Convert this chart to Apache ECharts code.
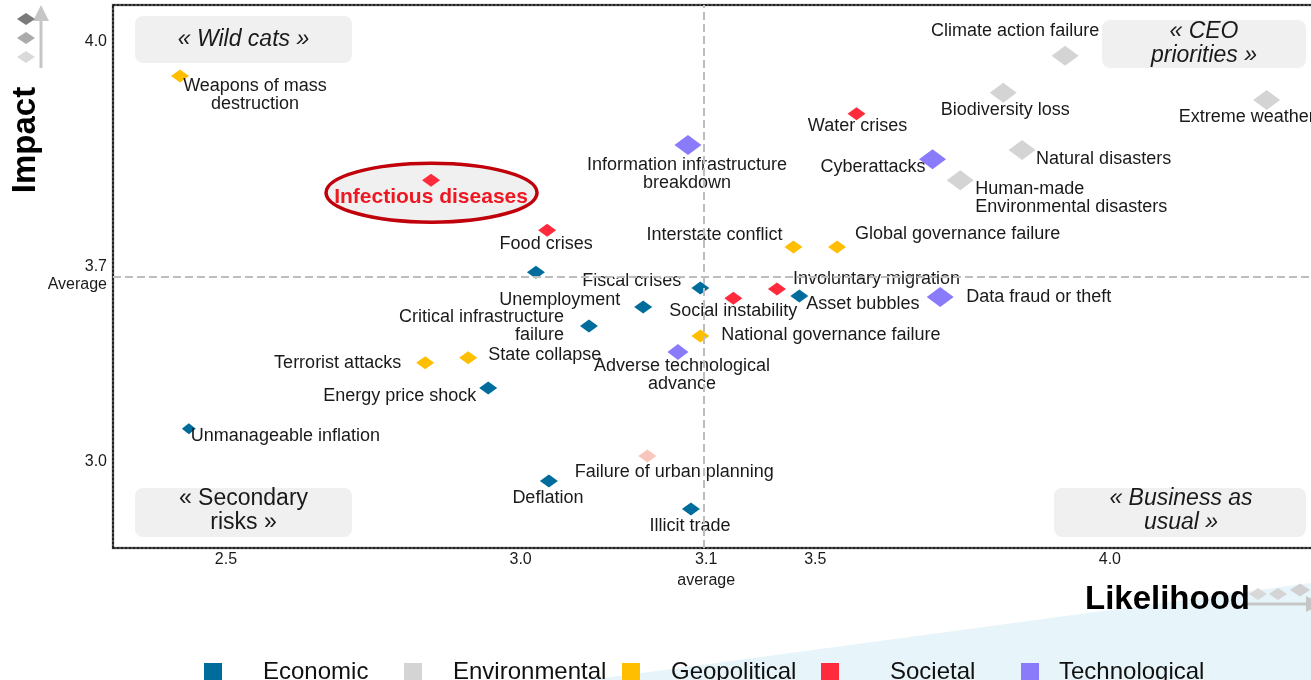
<!DOCTYPE html>
<html><head><meta charset="utf-8">
<script src="https://cdn.jsdelivr.net/npm/echarts@6/dist/echarts.min.js"></script>
<style>html,body{margin:0;padding:0;background:#fff}#c{width:1311px;height:680px}</style>
</head><body><div id="c"></div>
<script>
// ---------------- DATA ----------------
const categories = ['Economic', 'Environmental', 'Geopolitical', 'Societal', 'Technological'];

const economicRisks = ['Failure of financial mechanism', 'Unemployment', 'Critical infrastructure\nfailure', 'Fiscal crises', 'Asset bubbles', 'Energy price shock', 'Unmanageable inflation', 'Deflation', 'Illicit trade'];
const economicLikelihood = [3.026, 3.208, 3.116, 3.305, 3.473, 2.945, 2.437, 3.048, 3.289];
const economicImpact     = [3.452, 3.369, 3.324, 3.414, 3.395, 3.176, 3.079, 2.955, 2.888];

const environmentalRisks = ['Climate action failure', 'Biodiversity loss', 'Extreme weather', 'Natural disasters', 'Human-made\nEnvironmental disasters'];
const environmentalLikelihood = [3.924, 3.819, 4.266, 3.851, 3.746];
const environmentalImpact     = [3.967, 3.879, 3.862, 3.743, 3.671];

const geopoliticalRisks = ['Weapons of mass\ndestruction', 'Interstate conflict', 'Global governance failure', 'National governance failure', 'Terrorist attacks', 'State collapse'];
const geopoliticalLikelihood = [2.422, 3.463, 3.537, 3.305, 2.838, 2.911];
const geopoliticalImpact     = [3.919, 3.512, 3.512, 3.300, 3.236, 3.248];

const societalRisks = ['Water crises', 'Infectious diseases', 'Food crises', 'Social instability', 'Involuntary migration', 'Failure of urban planning'];
const societalLikelihood = [3.570, 2.848, 3.045, 3.361, 3.435, 3.215];
const societalImpact     = [3.829, 3.671, 3.552, 3.390, 3.412, 3.014];

const technologicalRisks = ['Information infrastructure\nbreakdown', 'Cyberattacks', 'Data fraud or theft', 'Adverse technological\nadvance'];
const technologicalLikelihood = [3.284, 3.699, 3.712, 3.267];
const technologicalImpact     = [3.755, 3.721, 3.393, 3.262];

const xTicks = [2.5, 3.0, 3.5, 4.0];
const yTicks = [3.0, 4.0];
const avgLikelihood = 3.315, avgLikelihoodLabel = '3.1\naverage';
const avgImpact = 3.443, avgImpactLabel = '3.7\nAverage';

const quadrantLabels = ['« Wild cats »', '« CEO\npriorities »', '« Secondary\nrisks »', '« Business as\nusual »'];
const highlightedRisk = 'Infectious diseases';

// ---------------- STYLE / LAYOUT ----------------
const FONT = '"Liberation Sans", Arial, Helvetica, sans-serif';
const colors = ['#006c9c', '#d4d4d4', '#ffbf00', '#ff2b3d', '#8a7bfb'];
const symbolSizes = [[18, 13], [27, 20], [18, 13], [18, 13], [27, 20]];
const sizeOverride = {'Unmanageable inflation': [14, 11], 'Adverse technological\nadvance': [21, 16]};
const colorOverride = {'Failure of urban planning': '#f9c6bc'};

// label placement: [align, dx, dy] relative to the marker centre
const labelLayout = {
  'Failure of financial mechanism': null,
  'Unemployment': ['right', -23, -7],
  'Critical infrastructure\nfailure': ['right', -25, 0],
  'Fiscal crises': ['right', -19, -7],
  'Asset bubbles': ['left', 7, 8],
  'Energy price shock': ['right', -12, 8],
  'Unmanageable inflation': ['left', 2, 7],
  'Deflation': ['center', -1, 17],
  'Illicit trade': ['center', -1, 17],
  'Climate action failure': ['center', -50, -25],
  'Biodiversity loss': ['center', 2, 17],
  'Extreme weather': ['left', -88, 17],
  'Natural disasters': ['left', 14, 9],
  'Human-made\nEnvironmental disasters': ['left', 15, 18],
  'Weapons of mass\ndestruction': ['center', 75, 19],
  'Interstate conflict': ['right', -11, -12],
  'Global governance failure': ['left', 18, -13],
  'National governance failure': ['left', 21, -1],
  'Terrorist attacks': ['right', -24, 0],
  'State collapse': ['left', 20, -3],
  'Water crises': ['center', 1, 12],
  'Infectious diseases': ['center', 0, 17],
  'Food crises': ['center', -1, 14],
  'Social instability': ['center', 0, 13],
  'Involuntary migration': ['left', 16, -10],
  'Failure of urban planning': ['center', 27, 16],
  'Information infrastructure\nbreakdown': ['center', -1, 29],
  'Cyberattacks': ['right', -7, 8],
  'Data fraud or theft': ['left', 26, 0],
  'Adverse technological\nadvance': ['center', 4, 23]
};

const seriesSource = [
  [economicRisks, economicLikelihood, economicImpact],
  [environmentalRisks, environmentalLikelihood, environmentalImpact],
  [geopoliticalRisks, geopoliticalLikelihood, geopoliticalImpact],
  [societalRisks, societalLikelihood, societalImpact],
  [technologicalRisks, technologicalLikelihood, technologicalImpact]
];

const xMin = 2.3083, xMax = 4.3752, yMin = 2.7952, yMax = 4.0881;

function makePoint(name, x, y) {
  const L = labelLayout[name];
  const item = {name: name, value: [x, y]};
  if (!L) {
    item.label = {show: false};
  } else {
    item.label = {show: true, position: 'inside', align: L[0], verticalAlign: 'middle', offset: [L[1], L[2]]};
    if (name === highlightedRisk) {
      item.label.fontWeight = 'bold';
      item.label.fontSize = 21;
      item.label.color = '#ee1822';
    }
  }
  if (sizeOverride[name]) item.symbolSize = sizeOverride[name];
  if (colorOverride[name]) item.itemStyle = {color: colorOverride[name]};
  return item;
}

const series = categories.map((c, i) => {
  const [names, xs, ys] = seriesSource[i];
  const s = {
    type: 'scatter', name: c, symbol: 'diamond', symbolSize: symbolSizes[i],
    itemStyle: {color: colors[i], opacity: 1},
    label: {show: true, formatter: '{b}', fontSize: 18, lineHeight: 18, color: '#1a1a1a', fontFamily: FONT},
    emphasis: {disabled: true},
    data: names.map((n, j) => makePoint(n, xs[j], ys[j])),
    z: 3
  };
  if (i === 0) {
    s.markLine = {
      silent: true, symbol: 'none', label: {show: false},
      lineStyle: {color: '#bdbdbd', width: 2, type: [8, 4]},
      data: [{xAxis: avgLikelihood}, {yAxis: avgImpact}]
    };
  }
  return s;
});

const legendLefts = [204, 404, 622, 821, 1021];
const legendTextGaps = [36, 26, 26, 46, 15];
const legends = categories.map((c, i) => ({
  data: [c], left: legendLefts[i], top: 653, padding: 0, icon: 'rect',
  itemWidth: 18, itemHeight: 18, selectedMode: false,
  textStyle: {fontSize: 24, lineHeight: 24, color: '#111', fontFamily: FONT, padding: [0, 0, 14, legendTextGaps[i]]}
}));

function diamond(cx, cy, w, h, fill, z) {
  return {type: 'polygon', shape: {points: [[cx - w / 2, cy], [cx, cy - h / 2], [cx + w / 2, cy], [cx, cy + h / 2]]}, style: {fill: fill}, z: z || 1};
}
function box(x, y, w, h, text, italic, cx, cy) {
  return [
    {type: 'rect', shape: {x: x, y: y, width: w, height: h, r: 8}, style: {fill: '#f0f0f0'}, z: 1},
    {type: 'text', x: cx, y: cy, z: 2, style: {text: text, fill: '#1a1a1a', font: (italic ? 'italic ' : '') + '23px ' + FONT, align: 'center', verticalAlign: 'middle', textAlign: 'center', textVerticalAlign: 'middle', lineHeight: 24}}
  ];
}

const graphics = [].concat(
  [{type: 'polygon', shape: {points: [[590, 680], [1311, 583], [1311, 680]]}, style: {fill: '#e7f4f9'}, z: 0}],
  box(135, 16, 217, 47, quadrantLabels[0], true, 243.5, 40),
  box(1102, 20, 204, 48, quadrantLabels[1], true, 1204, 44),
  box(135, 488, 217, 49, quadrantLabels[2], false, 243.5, 511),
  box(1054, 488, 252, 49, quadrantLabels[3], true, 1181, 511),
  [
    // impact arrow (top-left)
    {type: 'line', shape: {x1: 41, y1: 18, x2: 41, y2: 68}, style: {stroke: '#c6c6c6', lineWidth: 3}, z: 1},
    {type: 'polygon', shape: {points: [[33, 21], [41, 5], [49, 21]]}, style: {fill: '#c6c6c6'}, z: 1},
    diamond(26, 19, 18, 12, '#7a7a7a', 2),
    diamond(26, 38, 18, 12, '#ababab', 2),
    diamond(26, 57, 18, 12, '#dadada', 2),
    {type: 'text', x: 26, y: 140, rotation: Math.PI / 2, z: 2, style: {text: 'Impact', fill: '#000', font: 'bold 33px ' + FONT, align: 'center', verticalAlign: 'middle', textAlign: 'center', textVerticalAlign: 'middle'}},
    // likelihood arrow (bottom-right)
    {type: 'line', shape: {x1: 1246, y1: 604, x2: 1311, y2: 604}, style: {stroke: '#c6c6c6', lineWidth: 3}, z: 1},
    {type: 'polygon', shape: {points: [[1306, 596], [1322, 604], [1306, 612]]}, style: {fill: '#c6c6c6'}, z: 1},
    diamond(1258, 594, 18, 12, '#d8d8d8', 1),
    diamond(1278, 594, 18, 12, '#d4d4d4', 1),
    diamond(1300, 590, 20, 13, '#d0d0d0', 1),
    {type: 'text', x: 1085, y: 600, z: 3, style: {text: 'Likelihood', fill: '#000', font: 'bold 33px ' + FONT, align: 'left', verticalAlign: 'middle', textAlign: 'left', textVerticalAlign: 'middle'}}
  ]
);

const dotted = {color: '#222', width: 2, type: [2, 2]};
const option = {
  animation: false,
  textStyle: {fontFamily: FONT},
  grid: {left: 113, right: -20, top: 5, bottom: 132, show: true, borderColor: '#cfcfcf', borderWidth: 3, outerBoundsMode: 'none', containLabel: false},
  xAxis: [
    {type: 'value', min: xMin, max: xMax, position: 'bottom', splitLine: {show: false}, axisTick: {show: false},
      axisLine: {show: true, onZero: false, lineStyle: dotted},
      axisLabel: {customValues: xTicks.concat([avgLikelihood]), fontSize: 16, color: '#1a1a1a', margin: 1, lineHeight: 21, fontFamily: FONT,
        formatter: v => Math.abs(v - avgLikelihood) < 1e-6 ? avgLikelihoodLabel : v.toFixed(1)}},
    {type: 'value', min: xMin, max: xMax, position: 'top', splitLine: {show: false}, axisTick: {show: false},
      axisLine: {show: true, onZero: false, lineStyle: dotted}, axisLabel: {show: false}}
  ],
  yAxis: [
    {type: 'value', min: yMin, max: yMax, position: 'left', splitLine: {show: false}, axisTick: {show: false},
      axisLine: {show: true, onZero: false, lineStyle: dotted},
      axisLabel: {customValues: yTicks.concat([avgImpact]), fontSize: 16, color: '#1a1a1a', margin: 6, lineHeight: 18, padding: [5, 0, 0, 0], fontFamily: FONT,
        formatter: v => Math.abs(v - avgImpact) < 1e-6 ? avgImpactLabel : v.toFixed(1)}}
  ],
  legend: legends,
  series: series,
  graphic: graphics
};

const chart = echarts.init(document.getElementById('c'), null, {renderer: 'canvas'});
chart.setOption(option);

// ellipse highlight around the highlighted risk, anchored to its data point
const hi = societalRisks.indexOf(highlightedRisk);
const p = chart.convertToPixel({xAxisIndex: 0, yAxisIndex: 0}, [societalLikelihood[hi], societalImpact[hi]]);
chart.setOption({graphic: graphics.concat([{type: 'ellipse', shape: {cx: p[0] + 0.5, cy: p[1] + 12.5, rx: 105.5, ry: 29.5}, style: {fill: '#f0f0f0', stroke: '#c0000b', lineWidth: 3.5}, z: 1}])});
</script>
</body></html>
